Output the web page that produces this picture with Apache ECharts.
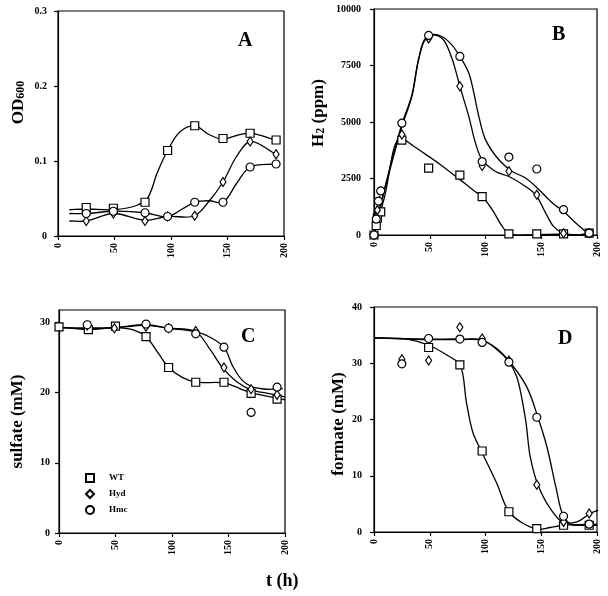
<!DOCTYPE html>
<html>
<head>
<meta charset="utf-8">
<script src="https://cdn.jsdelivr.net/npm/echarts@6/dist/echarts.min.js"></script>
<style>
html,body{margin:0;padding:0;background:#fff;}
#chart{width:608px;height:596px;}
</style>
</head>
<body>
<div id="chart"></div>
<script>
// ---------- Data ----------
const xTicks = [0, 50, 100, 150, 200];
const seriesNames = ['WT', 'Hyd', 'Hmc'];
const panelLetters = ['A', 'B', 'C', 'D'];

// Panel A: OD600
const aWT  = [[25,0.038],[49,0.037],[77,0.045],[97,0.114],[121,0.147],[146,0.130],[170,0.137],[193,0.128]];
const aHyd = [[25,0.020],[49,0.030],[77,0.020],[97,0.026],[121,0.027],[146,0.072],[170,0.126],[193,0.109]];
const aHmc = [[25,0.030],[49,0.033],[77,0.031],[97,0.026],[121,0.045],[146,0.045],[170,0.092],[193,0.096]];
const aFitWT  = [[10,0.035],[25,0.036],[49,0.035],[70,0.041],[79,0.050],[88,0.085],[97,0.114],[108,0.139],[121,0.147],[134,0.135],[146,0.129],[158,0.134],[170,0.137],[193,0.128]];
const aFitHyd = [[10,0.020],[25,0.020],[49,0.030],[77,0.021],[97,0.026],[121,0.027],[134,0.047],[146,0.072],[158,0.106],[170,0.126],[193,0.109]];
const aFitHmc = [[10,0.030],[25,0.030],[49,0.033],[77,0.031],[97,0.026],[110,0.036],[121,0.045],[134,0.047],[146,0.045],[158,0.070],[170,0.092],[193,0.096]];

// Panel B: H2 (ppm)
const bWT  = [[0,0],[2,420],[3,750],[6,1020],[25,4200],[49,2960],[77,2650],[97,1700],[121,50],[146,50],[170,50],[193,80]];
const bHyd = [[0,0],[2,800],[3,1100],[5,1500],[25,4450],[49,8700],[77,6580],[97,3050],[121,2820],[146,1780],[170,80],[193,80]];
const bHmc = [[0,0],[2,700],[4,1500],[6,1950],[25,4950],[49,8830],[77,7900],[97,3250],[121,3450],[146,2920],[170,1120],[193,80]];
const bFitWT  = [[0,0],[10,1800],[20,4100],[25,4250],[35,3950],[49,3480],[60,3100],[77,2450],[90,1950],[97,1700],[106,1120],[115,380],[121,50],[135,0],[155,30],[172,30],[185,0],[193,80]];
const bFitHyd = [[0,0],[8,1700],[16,3200],[25,4800],[34,6130],[40,7750],[46,8650],[54,8850],[62,8650],[70,7800],[77,6580],[85,5250],[91,4070],[97,3330],[109,2810],[121,2590],[136,2150],[145,1780],[154,970],[161,380],[169,90],[182,0],[193,80]];
const bFitHmc = [[0,0],[8,1750],[16,3300],[25,4900],[34,6200],[40,7800],[46,8700],[54,8880],[62,8750],[70,8400],[77,7900],[85,7170],[94,5250],[100,4220],[112,3330],[124,2810],[136,2520],[148,2000],[160,1420],[170,1040],[181,530],[193,10]];

// Panel C: sulfate (mM)
const cWT  = [[0,29.4],[26,29.0],[50,29.5],[77,28.0],[97,23.6],[121,21.5],[146,21.5],[170,19.9],[193,19.1]];
const cHyd = [[25,29.6],[49,29.2],[77,29.4],[97,29.2],[121,28.8],[146,23.6],[170,20.5],[193,19.7]];
const cHmc = [[25,29.7],[77,29.8],[97,29.2],[121,28.4],[146,26.5],[170,17.2],[193,20.8]];
const cFitWT  = [[0,29.4],[26,29.0],[50,29.3],[65,29.0],[77,28.0],[88,25.6],[97,23.6],[109,22.2],[121,21.5],[146,21.4],[160,20.6],[170,20.0],[200,19.0]];
const cFitHyd = [[0,29.3],[26,29.2],[50,29.3],[77,29.6],[97,29.2],[121,28.7],[134,26.1],[145,23.5],[157,21.6],[170,20.4],[185,19.9],[200,19.4]];
const cFitHmc = [[0,29.3],[26,29.2],[50,29.3],[77,29.7],[97,29.2],[121,28.7],[135,27.8],[146,26.5],[154,23.7],[162,21.8],[170,20.9],[184,20.5],[198,20.6]];

// Panel D: formate (mM)
const dWT  = [[49,32.8],[77,29.7],[97,14.4],[121,3.6],[146,0.6],[170,1.2],[193,1.2]];
const dHyd = [[25,30.7],[49,30.5],[77,36.4],[97,34.4],[121,30.5],[146,8.4],[170,1.8],[193,3.3]];
const dHmc = [[25,29.9],[49,34.4],[77,34.3],[97,33.7],[121,30.2],[146,20.4],[170,2.8],[193,1.4]];
const dFitWT  = [[0,34.5],[30,34.3],[49,33.2],[65,31.5],[77,29.7],[83,22.9],[89,17.5],[97,14.1],[110,8.7],[121,3.6],[134,1.5],[147,0.5],[158,0.8],[171,1.2],[200,1.4]];
const dFitHyd = [[0,34.5],[50,34.2],[77,34.2],[97,34.1],[110,32.5],[121,30.3],[128,27.6],[136,19.9],[140,13.5],[147,8.4],[158,4.2],[169,1.8],[182,1.8],[194,3.3],[201,3.9]];
const dFitHmc = [[0,34.5],[50,34.3],[77,34.3],[97,34.1],[110,32.6],[121,30.4],[137,25.8],[147,20.4],[155,15.2],[163,8.1],[169,3.3],[176,1.4],[188,1.2],[200,1.2]];

// ---------- Styling / layout ----------
const FONT = "'Liberation Serif', 'DejaVu Serif', serif";
const symbols = {WT: {symbol: 'rect', size: 8}, Hyd: {symbol: 'diamond', size: [6, 9]}, Hmc: {symbol: 'circle', size: 8}};

const grids = [
  {left: 58,  top: 11,  width: 226, height: 225},
  {left: 374, top: 9,   width: 223, height: 226},
  {left: 59,  top: 310, width: 226, height: 223},
  {left: 374, top: 307, width: 223, height: 225}
];
const yCfg = [
  {min: 0, max: 0.3, interval: 0.1, margin: 11, name: '{n|OD}{s|600}', gap: 26, pad: [0,0,0,42]},
  {min: 0, max: 10000, interval: 2500, margin: 13, name: '{n|H}{s|2}{n| (ppm)}', gap: 42, pad: [0,0,0,18]},
  {min: 0, max: 31.8, interval: 10, margin: 9, name: '{n|sulfate (mM)}', gap: 28, pad: [0,0,0,0]},
  {min: 0, max: 40, interval: 10, margin: 12, name: '{n|formate (mM)}', gap: 22, pad: [0,9,0,0]}
];

const panels = [
  {pts: [aWT, aHyd, aHmc], fits: [aFitWT, aFitHyd, aFitHmc]},
  {pts: [bWT, bHyd, bHmc], fits: [bFitWT, bFitHyd, bFitHmc]},
  {pts: [cWT, cHyd, cHmc], fits: [cFitWT, cFitHyd, cFitHmc]},
  {pts: [dWT, dHyd, dHmc], fits: [dFitWT, dFitHyd, dFitHmc]}
];

const axisLine = {show: true, lineStyle: {color: '#000', width: 1.2}};
const axisTick = {show: true, inside: false, length: 4, lineStyle: {color: '#000', width: 1.2}};

const xAxes = grids.map((g, i) => ({
  type: 'value', gridIndex: i, min: xTicks[0], max: xTicks[xTicks.length - 1], interval: xTicks[1] - xTicks[0],
  axisLine, axisTick, splitLine: {show: false},
  axisLabel: {rotate: 90, margin: 7, color: '#000', fontFamily: FONT, fontWeight: 'bold', fontSize: 10}
}));

const yAxes = yCfg.map((c, i) => ({
  type: 'value', gridIndex: i, min: c.min, max: c.max, interval: c.interval,
  axisLine, axisTick, splitLine: {show: false},
  axisLabel: {margin: c.margin, color: '#000', fontFamily: FONT, fontWeight: 'bold', fontSize: 10,
    showMaxLabel: i !== 2, formatter: v => String(v)},
  name: c.name, nameLocation: 'middle', nameRotate: 90, nameGap: c.gap,
  nameTextStyle: {
    padding: c.pad,
    rich: {
      n: {fontFamily: FONT, fontWeight: 'bold', fontSize: 17, color: '#000', padding: [0,0,5,0]},
      s: {fontFamily: FONT, fontWeight: 'bold', fontSize: 12, color: '#000'}
    }
  }
}));

// Centripetal Catmull-Rom spline through pixel points (obtained from the axis scales via api.coord)
function splinePath(P) {
  const n = P.length;
  if (n < 2) return '';
  let d = 'M' + P[0][0] + ',' + P[0][1];
  const dist = (a, b) => Math.pow(Math.hypot(b[0] - a[0], b[1] - a[1]), 0.5);
  for (let i = 0; i < n - 1; i++) {
    const p0 = P[i - 1] || P[i], p1 = P[i], p2 = P[i + 1], p3 = P[i + 2] || P[i + 1];
    const d1 = dist(p0, p1), d2 = dist(p1, p2), d3 = dist(p2, p3);
    let c1, c2;
    if (d1 > 1e-6) {
      c1 = [0, 1].map(k => (d1 * d1 * p2[k] - d2 * d2 * p0[k] + (2 * d1 * d1 + 3 * d1 * d2 + d2 * d2) * p1[k]) / (3 * d1 * (d1 + d2)));
    } else {
      c1 = [0, 1].map(k => p1[k] + (p2[k] - p1[k]) / 3);
    }
    if (d3 > 1e-6) {
      c2 = [0, 1].map(k => (d3 * d3 * p1[k] - d2 * d2 * p3[k] + (2 * d3 * d3 + 3 * d3 * d2 + d2 * d2) * p2[k]) / (3 * d3 * (d3 + d2)));
    } else {
      c2 = [0, 1].map(k => p2[k] - (p2[k] - p1[k]) / 3);
    }
    d += ' C' + c1[0] + ',' + c1[1] + ' ' + c2[0] + ',' + c2[1] + ' ' + p2[0] + ',' + p2[1];
  }
  return d;
}

const series = [];
panels.forEach((p, i) => {
  p.fits.forEach((f, k) => {
    series.push({
      type: 'custom', name: seriesNames[k] + ' fit', xAxisIndex: i, yAxisIndex: i, data: f,
      encode: {x: 0, y: 1}, silent: true, z: 2, clip: false,
      renderItem: (params, api) => {
        if (params.dataIndex !== 0) return null;
        const pts = f.map(pt => api.coord(pt));
        return {type: 'path', shape: {pathData: splinePath(pts)},
          style: {stroke: '#000', fill: null, lineWidth: 1.3}};
      }
    });
  });
  p.pts.forEach((d, k) => {
    const nm = seriesNames[k];
    series.push({
      type: 'scatter', name: nm, xAxisIndex: i, yAxisIndex: i, data: d,
      symbol: symbols[nm].symbol, symbolSize: symbols[nm].size, z: 3,
      itemStyle: {color: '#fff', borderColor: '#000', borderWidth: 1.2, opacity: 1}
    });
  });
});

const letterPos = [[238, 31], [552, 25], [241, 327], [558, 329]];
const titles = panelLetters.map((t, i) => ({
  text: t, left: letterPos[i][0], top: letterPos[i][1], padding: 0,
  textStyle: {fontFamily: FONT, fontWeight: 'bold', fontSize: 20, color: '#000'}
}));
titles.push({
  text: 't (h)', left: 266, top: 572, padding: 0,
  textStyle: {fontFamily: FONT, fontWeight: 'bold', fontSize: 18, color: '#000'}
});

const option = {
  animation: false,
  backgroundColor: '#fff',
  title: titles,
  legend: {
    data: seriesNames, orient: 'vertical', left: 80, top: 467,
    itemWidth: 8, itemHeight: 8, itemGap: 4,
    selectedMode: false,
    textStyle: {fontFamily: FONT, fontWeight: 'bold', fontSize: 9, color: '#000', padding: [0,0,0,10], lineHeight: 12}
  },
  grid: grids.map(g => Object.assign({show: true, borderColor: '#000', borderWidth: 1.2, backgroundColor: 'transparent'}, g)),
  xAxis: xAxes,
  yAxis: yAxes,
  series
};

const chart = echarts.init(document.getElementById('chart'), null, {renderer: 'canvas'});
chart.setOption(option);
</script>
</body>
</html>
